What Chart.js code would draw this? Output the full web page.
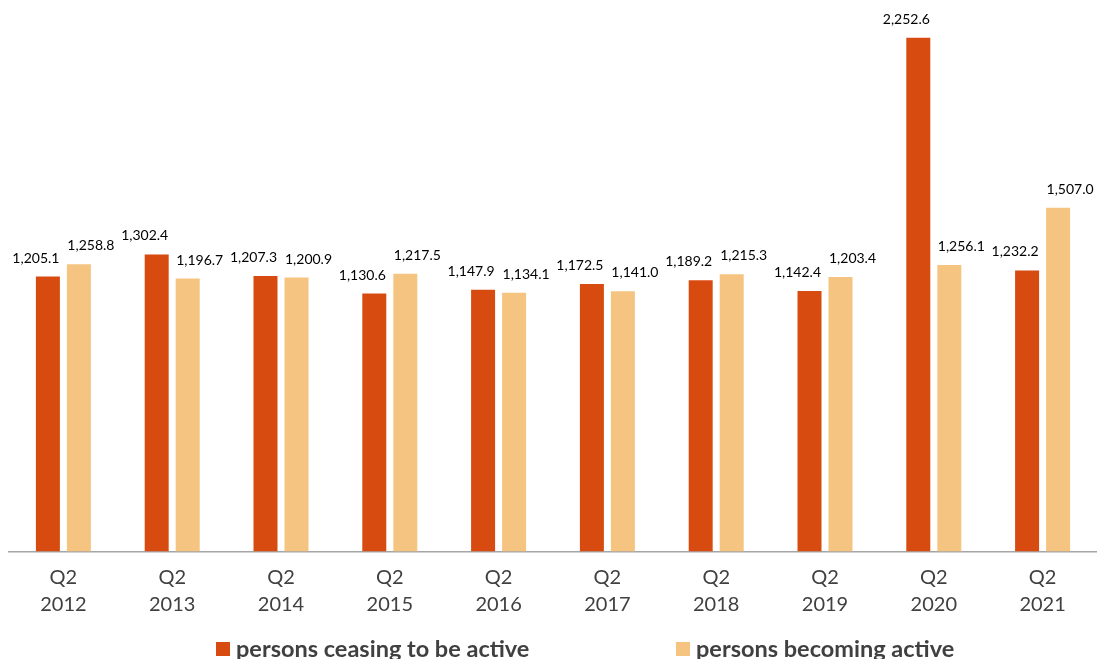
<!DOCTYPE html>
<html>
<head>
<meta charset="utf-8">
<script src="https://cdn.jsdelivr.net/npm/chart.js@4/dist/chart.umd.min.js"></script>
<style>
  html, body { margin: 0; padding: 0; background: #fff; overflow: hidden; }
  canvas { display: block; }
</style>
</head>
<body>
<canvas id="flowChart" width="1097" height="659"></canvas>
<script>
const quarters = ['Q2', 'Q2', 'Q2', 'Q2', 'Q2', 'Q2', 'Q2', 'Q2', 'Q2', 'Q2'];
const years = ['2012', '2013', '2014', '2015', '2016', '2017', '2018', '2019', '2020', '2021'];
const ceasing = [1205.1, 1302.4, 1207.3, 1130.6, 1147.9, 1172.5, 1189.2, 1142.4, 2252.6, 1232.2];
const becoming = [1258.8, 1196.7, 1200.9, 1217.5, 1134.1, 1141.0, 1215.3, 1203.4, 1256.1, 1507.0];
const seriesNames = ['persons ceasing to be active', 'persons becoming active'];
const seriesColors = ['#D84B10', '#F5C480'];

function formatValue(v) {
    return v.toLocaleString('en-US', { minimumFractionDigits: 1, maximumFractionDigits: 1 });
}

// value labels above each bar, nudged outward from the pair
const valueLabels = {
    id: 'valueLabels',
    afterDatasetsDraw(chart) {
        const ctx = chart.ctx;
        ctx.save();
        ctx.font = '14px Lato';
        ctx.fillStyle = '#000';
        ctx.textAlign = 'center';
        ctx.textBaseline = 'alphabetic';
        chart.data.datasets.forEach((ds, di) => {
            const shift = di === 0 ? -12 : 12;
            chart.getDatasetMeta(di).data.forEach((bar, i) => {
                ctx.fillText(formatValue(ds.data[i]), bar.x + shift, bar.y - 14);
            });
        });
        ctx.restore();
    }
};

// legend along the bottom edge
const bottomLegend = {
    id: 'bottomLegend',
    afterDraw(chart) {
        const ctx = chart.ctx;
        const starts = [216, 676];
        ctx.save();
        ctx.font = 'bold 23.5px Lato';
        ctx.textBaseline = 'alphabetic';
        seriesNames.forEach((name, i) => {
            ctx.fillStyle = seriesColors[i];
            ctx.fillRect(starts[i], 642, 14, 14);
            ctx.fillStyle = '#404040';
            ctx.fillText(name, starts[i] + 20, 657);
        });
        ctx.restore();
    }
};

const ctx = document.getElementById('flowChart').getContext('2d');

new Chart(ctx, {
    type: 'bar',
    data: {
        labels: quarters.map((q, i) => [q, years[i]]),
        datasets: [
            {
                label: seriesNames[0],
                data: ceasing,
                backgroundColor: seriesColors[0],
                categoryPercentage: 0.57,
                barPercentage: 0.774
            },
            {
                label: seriesNames[1],
                data: becoming,
                backgroundColor: seriesColors[1],
                categoryPercentage: 0.57,
                barPercentage: 0.774
            }
        ]
    },
    options: {
        responsive: false,
        animation: false,
        devicePixelRatio: 1,
        layout: { padding: { top: 4, left: 9, right: 0, bottom: 27.5 } },
        plugins: {
            legend: { display: false },
            tooltip: { enabled: false }
        },
        scales: {
            x: {
                grid: { display: false, drawTicks: false },
                border: { display: true, color: '#a6a6a6', width: 1.5 },
                ticks: {
                    color: '#404040',
                    font: { family: 'Lato', size: 20, lineHeight: 1.35 },
                    padding: 13,
                    maxRotation: 0
                }
            },
            y: {
                display: false,
                min: 0,
                max: 2400
            }
        }
    },
    plugins: [valueLabels, bottomLegend]
});
</script>
</body>
</html>
